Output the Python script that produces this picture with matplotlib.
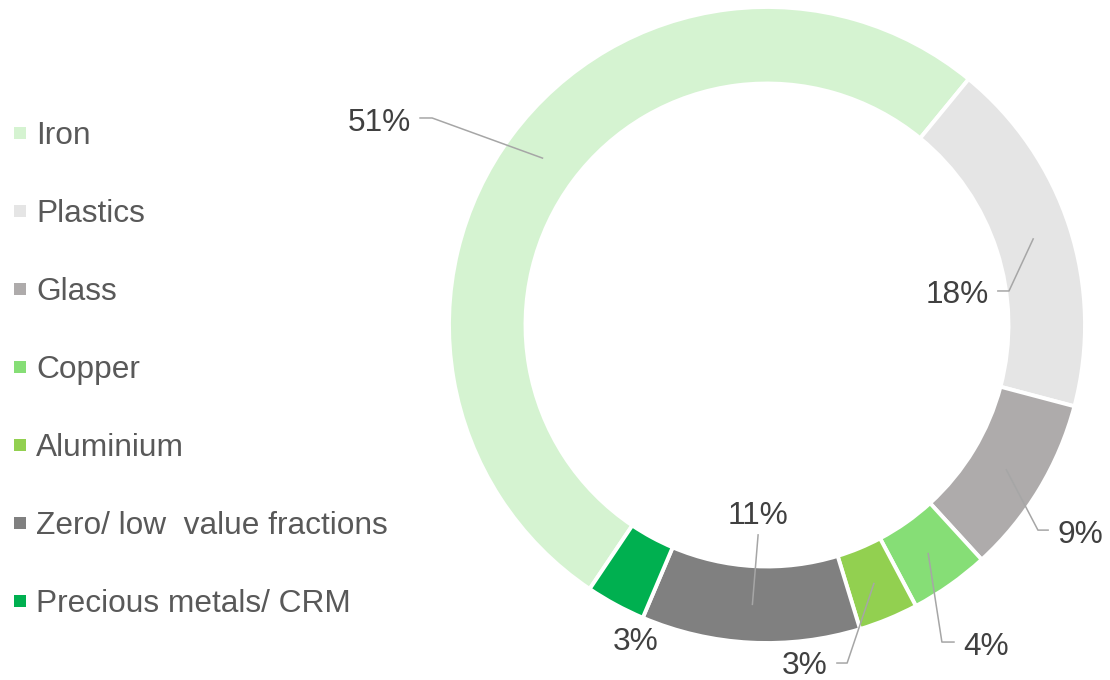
import numpy as np
import matplotlib.pyplot as plt
from matplotlib.patches import Rectangle

# data
materials = ['Iron', 'Plastics', 'Glass', 'Copper', 'Aluminium',
             'Zero/ low  value fractions', 'Precious metals/ CRM']
shares = [51, 18, 9, 4, 3, 11, 3]
colors = ['#D5F3D1', '#E5E5E5', '#AEABAB', '#86DE76', '#92D050', '#808080', '#00B050']

# label layout (axes units, outer radius = 1): text pos, alignment, leader line start, elbow
label_pos = [(-1.119, 0.610), (0.698, 0.069), (0.915, -0.686), (0.616, -1.038),
             (0.189, -1.098), (-0.028, -0.626), (-0.412, -1.022)]
label_ha = ['right', 'right', 'left', 'left', 'right', 'center', 'center']
line_start = [(-1.091, 0.651), (0.726, 0.107), (0.884, -0.645), (0.588, -0.997),
              (0.220, -1.063), (-0.028, -0.660), None]
line_elbow = [(-1.053, 0.651), (0.761, 0.107), (0.852, -0.645), (0.550, -0.997),
              (0.252, -1.063), None, None]

W, H = 1110, 680
plt.rcParams['font.family'] = ['Liberation Sans', 'DejaVu Sans']
fig = plt.figure(figsize=(W / 100, H / 100), dpi=100)

# donut: center at (767, 325) px from top-left, outer radius 318 px
R = 318
cx, cy = 767, H - 325
ax = fig.add_axes([(cx - R) / W, (cy - R) / H, 2 * R / W, 2 * R / H])
wedges, _ = ax.pie(shares, colors=colors, startangle=236.1, counterclock=False,
                   radius=1, wedgeprops=dict(width=76.5 / R, edgecolor='white', linewidth=2.8))
ax.set_xlim(-1, 1)
ax.set_ylim(-1, 1)
ax.axis('off')

mid_r = 1 - 0.5 * 76.5 / R
for i, w in enumerate(wedges):
    th = np.deg2rad((w.theta1 + w.theta2) / 2)
    px, py = mid_r * np.cos(th), mid_r * np.sin(th)
    ax.text(label_pos[i][0], label_pos[i][1], f'{shares[i]}%', ha=label_ha[i],
            va='baseline', fontsize=22.8, color='#404040')
    if line_start[i] is not None:
        pts = [line_start[i]]
        if line_elbow[i] is not None:
            pts.append(line_elbow[i])
        pts.append((px, py))
        xs, ys = zip(*pts)
        ax.plot(xs, ys, color='#A6A6A6', lw=1.1, clip_on=False)

# legend on the left
for i, (name, col) in enumerate(zip(materials, colors)):
    base = 144 + 78 * i
    fig.add_artist(Rectangle((14 / W, 1 - (base - 5) / H), 12 / W, 12 / H,
                             transform=fig.transFigure, facecolor=col, edgecolor='none'))
    fig.text(36 / W, 1 - base / H, name, ha='left', va='baseline',
             fontsize=22.8, color='#595959')

fig.savefig('out.png', dpi=100, facecolor='white')
